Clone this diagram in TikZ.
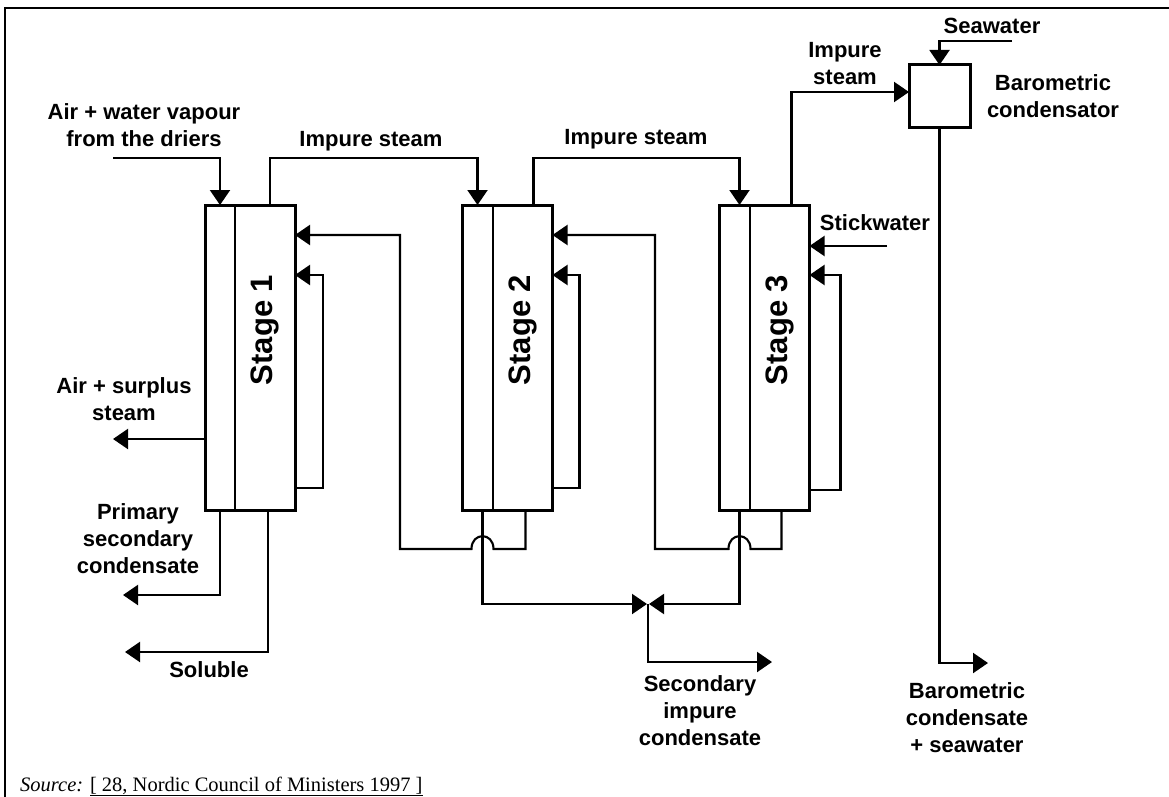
\documentclass[tikz,border=0pt]{standalone}
\usepackage{fontspec}
\setmainfont{Liberation Sans}
\newfontfamily\srcfont{Liberation Serif}
\usetikzlibrary{arrows.meta, positioning, calc}

\begin{document}
\begin{tikzpicture}[
  x=1pt, y=-1pt,
  arr/.style={-{Triangle[length=15pt, width=20pt]}, line width=2.1pt},
  pipe/.style={line width=2pt},
  stagebox/.style={draw, line width=3pt, minimum width=90pt, minimum height=305pt, inner sep=0pt, outer sep=0pt},
  lbl/.style={font=\fontsize{22}{27}\selectfont\bfseries, align=center, inner sep=0pt},
  stagelbl/.style={font=\fontsize{31}{34}\selectfont\bfseries, rotate=90, inner sep=0pt}
]
\useasboundingbox (0,0) rectangle (1169,797);

%% ===== frame =====
\draw[line width=2.6pt] (5,797) -- (5,8) -- (1169,8);

%% ===== evaporator stages =====
\foreach \i/\xc in {1/250, 2/507.5, 3/764.5} {
  \node[stagebox] (st\i) at (\xc, 357.5) {};
  \draw[pipe] ([xshift=30pt]st\i.north west) -- ([xshift=30pt]st\i.south west);
  \node[stagelbl] (lb\i) at ([shift={(15,-27.5)}]st\i.center) {Stage \i};
}

%% barometric condensator
\node[draw, line width=3pt, minimum width=61pt, minimum height=63pt, outer sep=0pt] (cond) at (939.5,96.5) {};
\node[lbl] (condlbl) at (1053,96.5) {Barometric\\condensator};

%% ===== feeds =====
\coordinate (airin) at (113,158);
\draw[arr] (airin) -| ([xshift=15pt]st1.north west);
\node[lbl] (airlbl) at (144,125.5) {Air + water vapour\\from the driers};

\coordinate (seain) at (1012,41);
\draw[arr] (seain) -| (cond.north);
\node[lbl] (sealbl) at (992,26) {Seawater};

\coordinate (stickin) at (887,246);
\draw[arr] (stickin) -- (stickin -| st3.east);
\node[lbl] (sticklbl) at (875,223) {Stickwater};

%% ===== impure steam between stages =====
\draw[arr] ([xshift=65pt]st1.north west) -- ++(0,-47) -| ([xshift=15pt]st2.north west);
\node[lbl] (is1) at (371,141) {Impure steam};

\draw[arr] ([xshift=71pt]st2.north west) -- ++(0,-47) -| ([xshift=20pt]st3.north west);
\node[lbl] (is2) at (636,139) {Impure steam};

\draw[arr] ([xshift=72pt]st3.north west) |- ([yshift=4.5pt]cond.west);
\node[lbl] (is3) at (845,63.5) {Impure\\steam};

%% ===== recycle loops (with line jumps) =====
\coordinate (ret1) at (400,235);
\draw[arr] ([xshift=63pt]st2.south west) -- ++(0,39) -- (493.5,549)
  to[out=90, in=90, looseness=2] (471.5,549) -- (400,549) -- (ret1) -- (ret1 -| st1.east);

\coordinate (ret2) at (655,235);
\draw[arr] ([xshift=62pt]st3.south west) -- ++(0,39) -- (750.5,549)
  to[out=90, in=90, looseness=2] (728.5,549) -- (655,549) -- (ret2) -- (ret2 -| st2.east);

%% inner loops
\draw[arr] ([yshift=22pt]st1.south east) -- ++(28,0) |- ([yshift=-70pt]st1.north east);
\draw[arr] ([yshift=22pt]st2.south east) -- ++(27,0) |- ([yshift=-70pt]st2.north east);
\draw[arr] ([yshift=20pt]st3.south east) -- ++(31,0) |- ([yshift=-70pt]st3.north east);

%% ===== outlets of stage 1 =====
\coordinate (airout) at (113,439);
\draw[arr] (airout -| st1.west) -- (airout);
\node[lbl] (asl) at (124,399.5) {Air + surplus\\steam};

\coordinate (pscout) at (123,595);
\draw[arr] ([xshift=15pt]st1.south west) |- (pscout);
\node[lbl] (pscl) at (138,539) {Primary\\secondary\\condensate};

\coordinate (solout) at (125,652);
\draw[arr] ([xshift=63pt]st1.south west) |- (solout);
\node[lbl] (soll) at (209,670) {Soluble};

%% ===== secondary impure condensate =====
\coordinate (mix) at (648,604);
\draw[arr] ([xshift=20pt]st2.south west) |- ([xshift=-1pt]mix);
\draw[arr] ([xshift=20pt]st3.south west) |- ([xshift=1pt]mix);
\coordinate (secout) at (772,662);
\draw[arr] (mix) |- (secout);
\node[lbl] (secl) at (700,711) {Secondary\\impure\\condensate};

%% ===== barometric condensate =====
\coordinate (baroout) at (988,663);
\draw[arr] (cond.south) |- (baroout);
\node[lbl] (barolbl) at (967,718) {Barometric\\condensate\\+ seawater};

%% source line
\node[anchor=base west, inner sep=0pt, font=\srcfont\fontsize{20.5}{24}\selectfont] (src) at (20,791)
  {\textit{Source:} \underline{[ 28, Nordic Council of Ministers 1997 ]}};

\end{tikzpicture}
\end{document}
